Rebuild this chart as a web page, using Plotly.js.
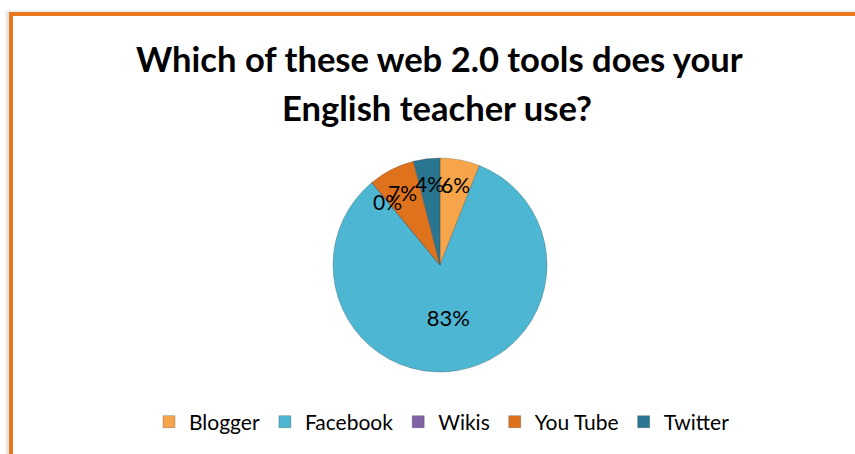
<!DOCTYPE html>
<html>
<head>
<meta charset="utf-8">
<script src="https://cdn.plot.ly/plotly-3.0.1.min.js"></script>
<style>
  html, body { margin: 0; padding: 0; background: #ffffff; }
  #wrap { position: relative; width: 855px; height: 454px; overflow: hidden; }
  #chart { position: absolute; left: 0; top: 0; width: 855px; height: 454px; }
  #frame { position: absolute; left: 9px; top: 12px; right: -10px; bottom: -10px;
           border-top: 4px solid #E8771F; border-left: 4px solid #E8771F;
           box-shadow: -3px -1px 2px #e4e4e4; pointer-events: none; }
</style>
</head>
<body>
<div id="wrap">
  <div id="chart"></div>
  <div id="frame"></div>
</div>
<script>
var categories = ["Blogger", "Facebook", "Wikis", "You Tube", "Twitter"];
var values = [6, 83, 0, 7, 4];
var colors = ["#F7A54A", "#4DB6D3", "#7E63A6", "#DF721C", "#2A7590"];
var titleLines = ["Which of these web 2.0 tools does your", "English teacher use?"];

var W = 855, H = 454;
var cx = 440, cy = 265, r = 107;
var FONT = "Lato, 'Open Sans', sans-serif";

var total = values.reduce(function (a, b) { return a + b; }, 0);

// Large slices keep the pie's own inside label; small slices get a label
// placed on the slice's mid-angle, like the original's "best fit" labels.
var texts = values.map(function (v) { return v / total > 0.5 ? "%{percent:.0%}" : ""; });

var labelAnns = [];
var cum = 0;
values.forEach(function (v) {
  var frac = v / total;
  if (frac <= 0.5) {
    var ang = (cum + v / 2) / total * 2 * Math.PI;
    var rr = 0.765 * r;
    var px = cx + rr * Math.sin(ang);
    var py = cy - rr * Math.cos(ang);
    labelAnns.push({
      text: Math.round(frac * 100) + "%", xref: "paper", yref: "paper",
      x: px / W, y: (H - py) / H, xanchor: "center", yanchor: "middle",
      showarrow: false, font: { family: FONT, size: 21, color: "#000000" }
    });
  }
  cum += v;
});

var trace = {
  type: "pie",
  labels: categories,
  values: values,
  sort: false,
  direction: "clockwise",
  rotation: 0,
  marker: { colors: colors, line: { color: "rgba(60,60,60,0.35)", width: 0.8 } },
  texttemplate: texts,
  textposition: "inside",
  insidetextorientation: "horizontal",
  textfont: { family: FONT, size: 22, color: "#000000" },
  hoverinfo: "label+percent",
  domain: { x: [(cx - r) / W, (cx + r) / W], y: [(H - cy - r) / H, (H - cy + r) / H] }
};

var layout = {
  width: W, height: H,
  margin: { l: 0, r: 0, t: 0, b: 0 },
  paper_bgcolor: "rgba(0,0,0,0)",
  plot_bgcolor: "rgba(0,0,0,0)",
  showlegend: true,
  uniformtext: { minsize: 21, mode: "show" },
  legend: {
    orientation: "h", x: 442 / W, xanchor: "center", y: (H - 422) / H, yanchor: "middle",
    font: { family: FONT, size: 21, color: "#000000" },
    itemwidth: 30, traceorder: "normal"
  },
  annotations: [
    { text: "<b>" + titleLines[0] + "</b>", xref: "paper", yref: "paper", x: 439 / W, y: (H - 58) / H,
      xanchor: "center", yanchor: "middle", showarrow: false,
      font: { family: FONT, size: 34.6, color: "#000000" } },
    { text: "<b>" + titleLines[1] + "</b>", xref: "paper", yref: "paper", x: 437 / W, y: (H - 108) / H,
      xanchor: "center", yanchor: "middle", showarrow: false,
      font: { family: FONT, size: 34.6, color: "#000000" } }
  ].concat(labelAnns)
};

Plotly.newPlot("chart", [trace], layout, { displayModeBar: false, staticPlot: true });
</script>
</body>
</html>
